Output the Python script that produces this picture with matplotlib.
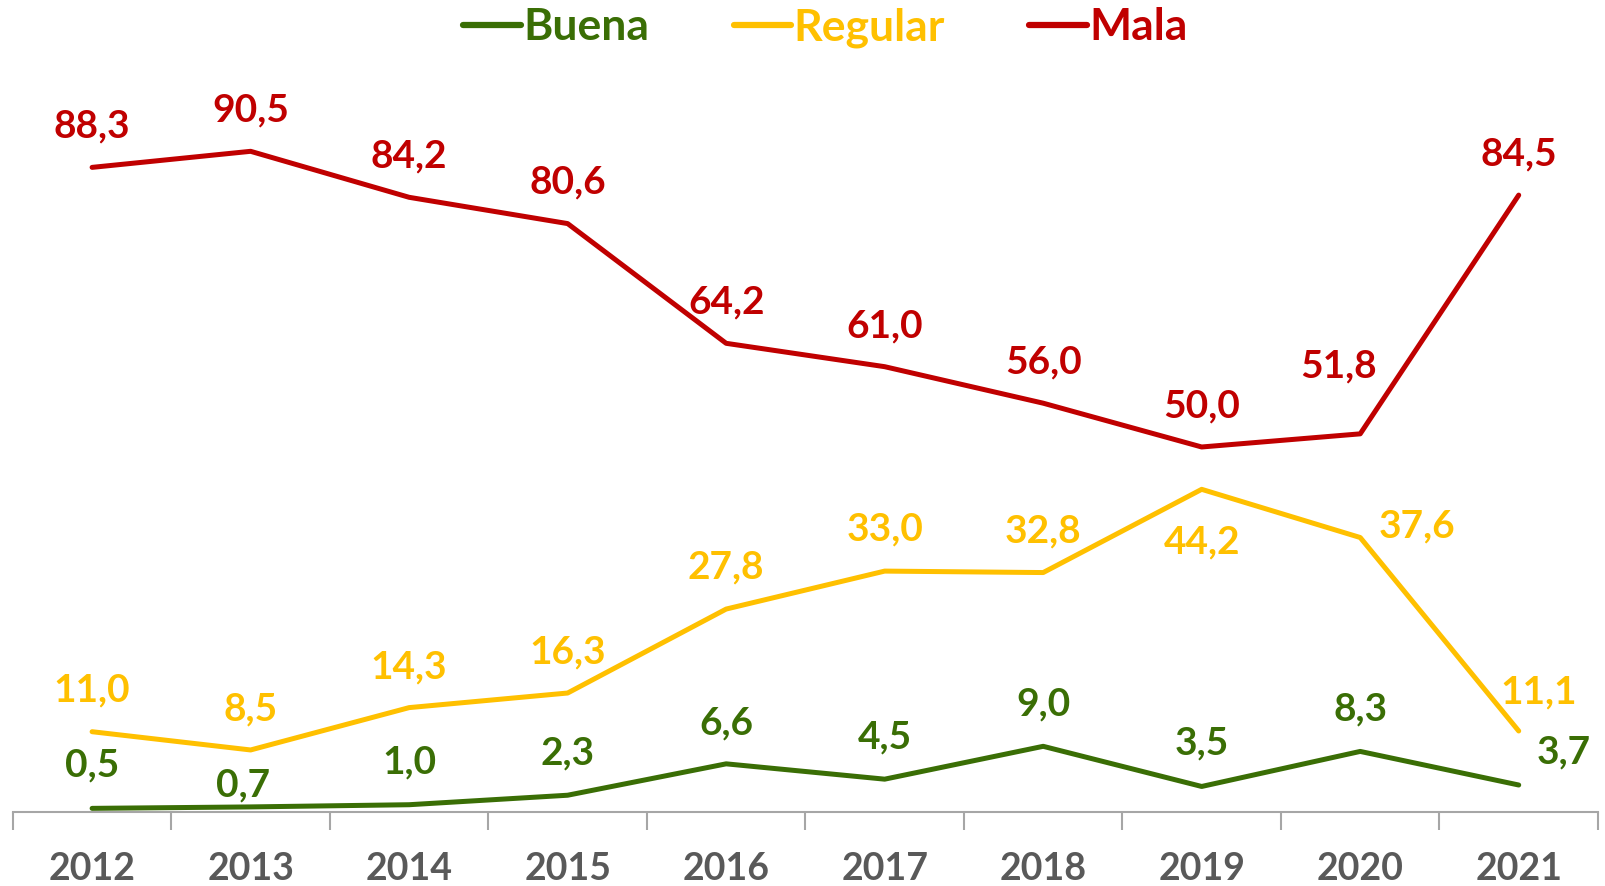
import matplotlib
matplotlib.use('Agg')
import matplotlib.pyplot as plt
from matplotlib.ticker import FixedLocator

plt.rcParams['font.family'] = ['Lato', 'DejaVu Sans']
plt.rcParams['font.weight'] = 'bold'

# data
years = ['2012', '2013', '2014', '2015', '2016', '2017', '2018', '2019', '2020', '2021']
buena = [0.5, 0.7, 1.0, 2.3, 6.6, 4.5, 9.0, 3.5, 8.3, 3.7]
regular = [11.0, 8.5, 14.3, 16.3, 27.8, 33.0, 32.8, 44.2, 37.6, 11.1]
mala = [88.3, 90.5, 84.2, 80.6, 64.2, 61.0, 56.0, 50.0, 51.8, 84.5]

green = '#3A6E05'
yellow = '#FFC000'
red = '#C00000'

# label offsets in pixels (dx, dy) relative to each point
off_buena = [(0, 43), (-8, 22), (0, 43), (0, 42), (0, 41), (0, 42), (0, 42), (0, 43), (0, 42), (45, 33)]
off_regular = [(0, 42), (0, 41), (0, 41), (0, 41), (0, 42), (0, 42), (0, 42), (0, -53), (57, 12), (20, 39)]
off_mala = [(0, 41), (0, 41), (0, 41), (0, 42), (0, 41), (0, 41), (0, 41), (0, 41), (-22, 68), (0, 41)]

fig = plt.figure(figsize=(16.06, 8.86), dpi=100)
ax = fig.add_axes([0.008, 0.0835, 0.987, 0.824])

x = list(range(len(years)))
series = [(buena, green, 'Buena', off_buena),
          (regular, yellow, 'Regular', off_regular),
          (mala, red, 'Mala', off_mala)]

for vals, col, name, offs in series:
    ax.plot(x, vals, color=col, lw=3.6, solid_capstyle='round', label=name)
    for xi, v, (dx, dy) in zip(x, vals, offs):
        ax.annotate(f'{v:.1f}'.replace('.', ','), (xi, v), xytext=(dx, dy),
                    textcoords='offset pixels', ha='center', va='center',
                    color=col, fontsize=28, fontweight='bold')

ax.set_xlim(-0.5, 9.5)
ax.set_ylim(0, 100)

for s in ['top', 'right', 'left']:
    ax.spines[s].set_visible(False)
ax.spines['bottom'].set_color('#A6A6A6')
ax.spines['bottom'].set_linewidth(1.5)
ax.set_yticks([])

ax.set_xticks(x)
ax.set_xticklabels(years, fontsize=27, fontweight='bold', color='#595959')
ax.tick_params(axis='x', which='major', length=0, pad=29)
ax.xaxis.set_minor_locator(FixedLocator([i - 0.5 for i in range(len(years) + 1)]))
ax.tick_params(axis='x', which='minor', length=13, width=1.5, color='#A6A6A6')

handles, labels = ax.get_legend_handles_labels()
leg = fig.legend(handles, labels, loc='upper center', bbox_to_anchor=(0.514, 1.017), ncol=3,
                 frameon=False, borderpad=0.0, handlelength=1.3, handletextpad=0.05,
                 columnspacing=1.9, prop={'size': 32, 'weight': 'bold'}, labelcolor='linecolor')
for h in leg.get_lines():
    h.set_linewidth(4.5)

fig.savefig('out.png', dpi=100)
